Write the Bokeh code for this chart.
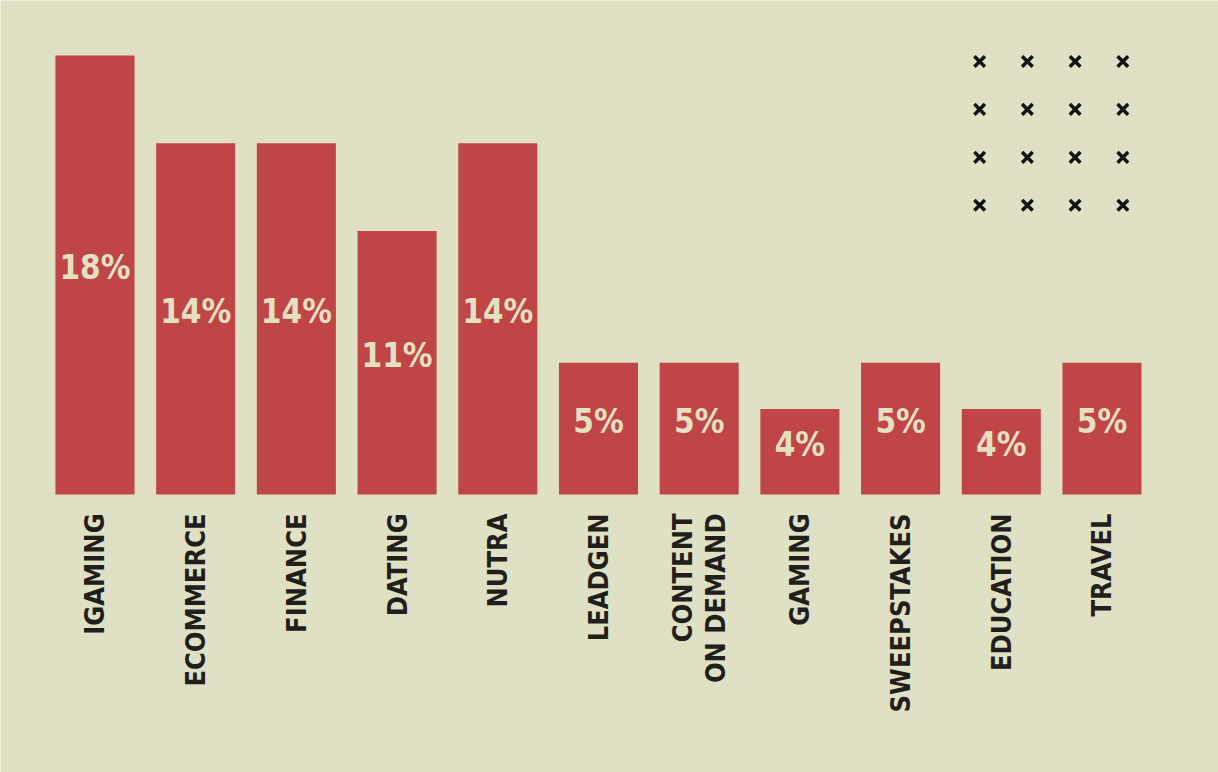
import numpy as np
from math import pi
from bokeh.plotting import figure
from bokeh.models import ColumnDataSource, Range1d
from bokeh.core.properties import value
from bokeh.embed import file_html
from bokeh.resources import INLINE

# ---- data ----
categories = ["IGAMING", "ECOMMERCE", "FINANCE", "DATING", "NUTRA", "LEADGEN",
              "CONTENT\nON DEMAND", "GAMING", "SWEEPSTAKES", "EDUCATION", "TRAVEL"]
shares = [18.0, 14.4, 14.4, 10.8, 14.4, 5.4, 5.4, 3.5, 5.4, 3.5, 5.4]
share_labels = ["18%", "14%", "14%", "11%", "14%", "5%", "5%", "4%", "5%", "4%", "5%"]

# ---- styling ----
BG = "#e0e0c4"
BAR = "#c04547"
CREAM = "#e4e0c2"
INK = "#221e1b"
FONT = "DejaVu Sans Condensed"

idx = list(range(len(categories)))

src = ColumnDataSource(dict(
    x=idx,
    top=shares,
    mid=[s / 2 for s in shares],
    lab=share_labels,
    cat=categories,
    zero=[0] * len(idx),
))

p = figure(width=1218, height=772, output_backend="svg", toolbar_location=None,
           x_range=Range1d(-0.938, 11.157), y_range=Range1d(-11.40, 20.25),
           x_axis_type=None, y_axis_type=None, min_border=0)
p.background_fill_color = BG
p.border_fill_color = BG
p.outline_line_color = None

p.vbar(x="x", top="top", bottom=0, width=0.785, source=src,
       fill_color=BAR, line_color=None)

p.text(x="x", y="mid", text="lab", source=src, text_align="center",
       text_baseline="middle", y_offset=-7, text_color=CREAM,
       text_font=value(FONT), text_font_style="bold", text_font_size="33px")

p.text(x="x", y="zero", text="cat", source=src, angle=pi / 2,
       text_align="right", text_baseline="middle", y_offset=19,
       text_color=INK, text_font=value(FONT), text_font_style="bold",
       text_font_size="27px", text_line_height=1.08)

# decorative 4x4 grid of crosses (top right)
gx0, gdx, gy0, gdy, n = 8.785, 0.474, 17.75, -1.965, 4
gx, gy = np.meshgrid(gx0 + gdx * np.arange(n), gy0 + gdy * np.arange(n))
p.scatter(x=gx.ravel(), y=gy.ravel(), marker="x", size=15, line_width=3.5,
          line_color="#111111")

html = file_html(p, INLINE, title="chart")
html = html.replace("<body", '<body style="margin:0;background-color:%s"' % BG, 1)
open("out.html", "w").write(html)
